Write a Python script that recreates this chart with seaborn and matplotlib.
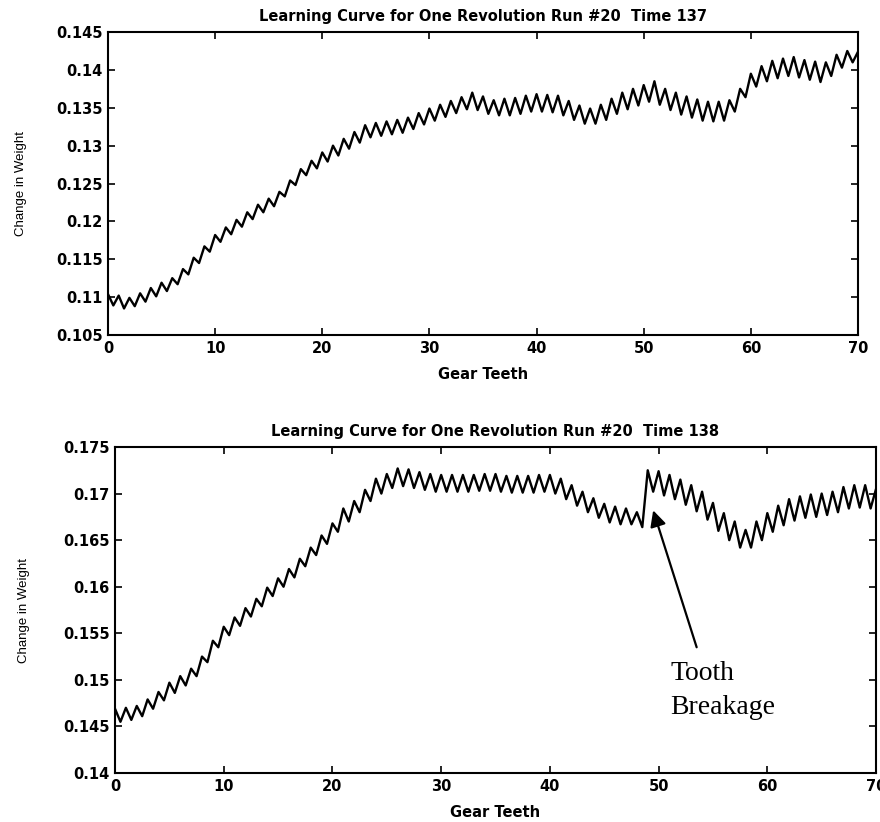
import matplotlib
matplotlib.use("Agg")
import matplotlib.pyplot as plt
import seaborn as sns
import pandas as pd

# Peaks are read at each whole tooth, troughs half way between teeth
teeth_peaks = list(range(0, 71))
teeth_troughs = [k + 0.5 for k in range(0, 70)]

peaks_137 = [0.1104, 0.1102, 0.1099, 0.1105, 0.1112, 0.1119, 0.1125, 0.1137, 0.1152, 0.1167,
             0.1182, 0.1192, 0.1202, 0.1212, 0.1222, 0.1230, 0.1239, 0.1254, 0.1269, 0.1280,
             0.1291, 0.1300, 0.1309, 0.1318, 0.1327, 0.1330, 0.1332, 0.1334, 0.1337, 0.1343,
             0.1349, 0.1354, 0.1359, 0.1364, 0.1370, 0.1365, 0.1360, 0.1362, 0.1363, 0.1366,
             0.1368, 0.1367, 0.1366, 0.1359, 0.1353, 0.1349, 0.1354, 0.1362, 0.1370, 0.1375,
             0.1380, 0.1385, 0.1375, 0.1370, 0.1365, 0.1361, 0.1358, 0.1358, 0.1360, 0.1375,
             0.1395, 0.1405, 0.1412, 0.1415, 0.1417, 0.1413, 0.1411, 0.1410, 0.1420, 0.1425,
             0.1424]
troughs_137 = [0.1089, 0.1085, 0.1088, 0.1094, 0.1101, 0.1108, 0.1117, 0.1130, 0.1145, 0.1160,
               0.1173, 0.1183, 0.1193, 0.1203, 0.1212, 0.1220, 0.1233, 0.1248, 0.1261, 0.1270,
               0.1279, 0.1287, 0.1296, 0.1304, 0.1311, 0.1313, 0.1315, 0.1317, 0.1322, 0.1328,
               0.1333, 0.1338, 0.1343, 0.1348, 0.1347, 0.1342, 0.1340, 0.1340, 0.1342, 0.1345,
               0.1345, 0.1344, 0.1340, 0.1334, 0.1329, 0.1329, 0.1334, 0.1342, 0.1348, 0.1353,
               0.1358, 0.1354, 0.1347, 0.1341, 0.1337, 0.1333, 0.1332, 0.1333, 0.1345, 0.1364,
               0.1378, 0.1385, 0.1389, 0.1392, 0.1390, 0.1387, 0.1384, 0.1392, 0.1403, 0.1410]

peaks_138 = [0.1469, 0.1470, 0.1472, 0.1479, 0.1487, 0.1497, 0.1504, 0.1512, 0.1525, 0.1542,
             0.1557, 0.1567, 0.1577, 0.1587, 0.1599, 0.1609, 0.1619, 0.1630, 0.1642, 0.1655,
             0.1668, 0.1684, 0.1692, 0.1704, 0.1716, 0.1721, 0.1727, 0.1726, 0.1723, 0.1721,
             0.1720, 0.1720, 0.1720, 0.1720, 0.1721, 0.1721, 0.1719, 0.1719, 0.1719, 0.1720,
             0.1720, 0.1716, 0.1709, 0.1702, 0.1695, 0.1689, 0.1686, 0.1684, 0.1680, 0.1725,
             0.1724, 0.1720, 0.1715, 0.1709, 0.1702, 0.1690, 0.1679, 0.1670, 0.1661, 0.1670,
             0.1679, 0.1687, 0.1694, 0.1697, 0.1699, 0.1700, 0.1702, 0.1707, 0.1709, 0.1709,
             0.1705]
troughs_138 = [0.1455, 0.1457, 0.1461, 0.1469, 0.1478, 0.1486, 0.1494, 0.1504, 0.1519, 0.1535,
               0.1548, 0.1558, 0.1568, 0.1579, 0.1590, 0.1600, 0.1610, 0.1622, 0.1634, 0.1646,
               0.1659, 0.1670, 0.1680, 0.1692, 0.1700, 0.1706, 0.1708, 0.1706, 0.1704, 0.1702,
               0.1702, 0.1702, 0.1702, 0.1703, 0.1703, 0.1702, 0.1701, 0.1701, 0.1701, 0.1702,
               0.1700, 0.1694, 0.1687, 0.1680, 0.1674, 0.1669, 0.1667, 0.1667, 0.1664, 0.1702,
               0.1698, 0.1694, 0.1688, 0.1681, 0.1672, 0.1660, 0.1650, 0.1642, 0.1642, 0.1650,
               0.1659, 0.1666, 0.1671, 0.1674, 0.1675, 0.1677, 0.1680, 0.1684, 0.1685, 0.1684]

xticks = [0, 10, 20, 30, 40, 50, 60, 70]
yticks_137 = [0.105, 0.11, 0.115, 0.12, 0.125, 0.13, 0.135, 0.14, 0.145]
yticks_138 = [0.14, 0.145, 0.15, 0.155, 0.16, 0.165, 0.17, 0.175]

titles = ["Learning Curve for One Revolution Run #20  Time 137",
          "Learning Curve for One Revolution Run #20  Time 138"]


def build_frame(peaks, troughs):
    df = pd.DataFrame({"tooth": teeth_peaks + teeth_troughs,
                       "weight": peaks + troughs})
    return df.sort_values("tooth")


sns.set_style("ticks")
plt.rcParams["font.family"] = ["DejaVu Sans"]
plt.rcParams["text.color"] = "black"
plt.rcParams["axes.labelcolor"] = "black"
plt.rcParams["xtick.color"] = "black"
plt.rcParams["ytick.color"] = "black"

fig = plt.figure(figsize=(8.8, 8.22), dpi=100)
ax1 = fig.add_axes([0.1227, 0.5925, 0.8523, 0.3685])
ax2 = fig.add_axes([0.1307, 0.0596, 0.8648, 0.3966])

panels = [(ax1, build_frame(peaks_137, troughs_137), yticks_137, titles[0], -0.108),
          (ax2, build_frame(peaks_138, troughs_138), yticks_138, titles[1], -0.112)]

for ax, df, yt, title, ylab_x in panels:
    sns.lineplot(data=df, x="tooth", y="weight", ax=ax, color="black", linewidth=1.7)
    ax.set_xlim(0, 70)
    ax.set_ylim(yt[0], yt[-1])
    ax.set_xticks(xticks)
    ax.set_xticklabels([str(t) for t in xticks])
    ax.set_yticks(yt)
    ax.set_yticklabels([f"{v:g}" for v in yt])
    ax.tick_params(direction="in", top=True, right=True, length=5, width=1.2,
                   labelsize=10.5, pad=4)
    for lab in ax.get_xticklabels() + ax.get_yticklabels():
        lab.set_fontweight("bold")
    for s in ax.spines.values():
        s.set_linewidth(1.5)
        s.set_color("black")
    ax.set_title(title, fontsize=10.5, fontweight="bold", pad=8)
    ax.set_xlabel("Gear Teeth", fontsize=10.5, fontweight="bold", labelpad=8)
    ax.set_ylabel("Change in Weight", fontsize=9.5, family=["Liberation Sans"])
    ax.yaxis.set_label_coords(ylab_x, 0.5)

# arrow and label for the broken tooth
ax2.annotate("", xy=(49.5, 0.1682), xytext=(53.5, 0.1535),
             arrowprops=dict(arrowstyle="-|>", color="black", lw=1.6,
                             mutation_scale=24, shrinkA=0, shrinkB=0))
ax2.text(51.1, 0.1520, "Tooth\nBreakage", fontsize=20, family=["Liberation Serif"],
         ha="left", va="top", linespacing=1.45)

fig.savefig("out.png", dpi=100)
